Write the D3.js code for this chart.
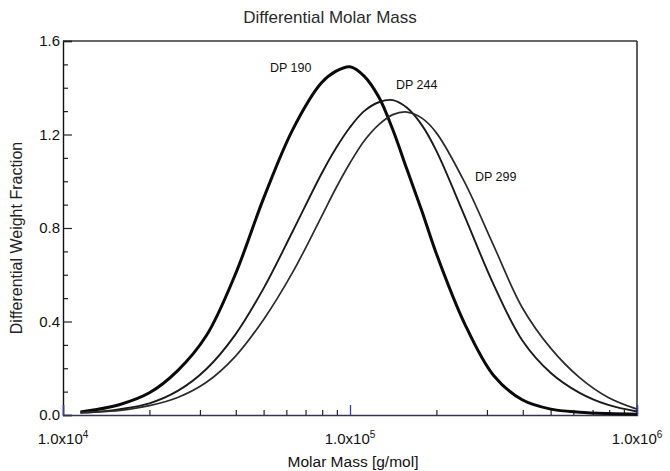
<!DOCTYPE html>
<html>
<head>
<meta charset="utf-8">
<script src="https://cdn.jsdelivr.net/npm/d3@7/dist/d3.min.js"></script>
<style>
  html, body { margin: 0; padding: 0; background: #fff; }
  svg { display: block; font-family: "Liberation Sans", Arial, sans-serif; }
</style>
</head>
<body>
<svg id="chart" width="670" height="471"></svg>
<script>
// Molar mass sampling points (g/mol)
const molarMass = [11500, 12600, 15800, 20000, 25100, 31600, 39800, 50100, 63100, 79400,
  89100, 100000, 112000, 126000, 141000, 158000, 178000, 200000, 251000, 316000,
  398000, 501000, 631000, 794000, 1000000];

// Differential weight fraction for each sample
const dp190 = [0.013, 0.02, 0.045, 0.095, 0.19, 0.34, 0.60, 0.93, 1.22, 1.42,
  1.47, 1.49, 1.45, 1.36, 1.22, 1.05, 0.873, 0.69, 0.39, 0.17,
  0.065, 0.025, 0.012, 0.006, 0.003];
const dp244 = [0.01, 0.012, 0.025, 0.05, 0.103, 0.197, 0.343, 0.544, 0.785, 1.03,
  1.139, 1.231, 1.30, 1.338, 1.347, 1.314, 1.24, 1.13, 0.85, 0.56,
  0.32, 0.18, 0.095, 0.043, 0.015];
const dp299 = [0.01, 0.012, 0.02, 0.04, 0.075, 0.14, 0.25, 0.41, 0.61, 0.847,
  0.968, 1.078, 1.172, 1.242, 1.285, 1.296, 1.27, 1.207, 0.995, 0.727,
  0.46, 0.285, 0.16, 0.075, 0.025];

const seriesNames = ["DP 190", "DP 244", "DP 299"];

// Axis ticks
const yMajorTicks = [0, 0.4, 0.8, 1.2, 1.6];
const yMinorTicks = [0.1, 0.2, 0.3, 0.5, 0.6, 0.7, 0.9, 1.0, 1.1, 1.3, 1.4, 1.5];
const xMajorTicks = [1e4, 1e5, 1e6];
const xMajorExponents = ["4", "5", "6"];
const xMinorTicks = [2e4, 3e4, 4e4, 5e4, 6e4, 7e4, 8e4, 9e4, 2e5, 3e5, 4e5, 5e5, 6e5, 7e5, 8e5, 9e5];

const W = 670, H = 471;
const margin = { top: 41, right: 33, bottom: 56, left: 63 };
const iw = W - margin.left - margin.right;
const ih = H - margin.top - margin.bottom;

const svg = d3.select("#chart");
const g = svg.append("g").attr("transform", `translate(${margin.left},${margin.top})`);

const x = d3.scaleLog().domain([1e4, 1e6]).range([0, iw]);
const y = d3.scaleLinear().domain([0, 1.6]).range([ih, 0]);

// Frame: top and right edges
g.append("line").attr("x1", 0).attr("x2", iw).attr("y1", 0).attr("y2", 0)
  .attr("stroke", "#333").attr("stroke-width", 1.3);
g.append("line").attr("x1", iw).attr("x2", iw).attr("y1", 0).attr("y2", ih)
  .attr("stroke", "#1a1a1a").attr("stroke-width", 1.4);

// Y axis with inward ticks
const yMinor = g.append("g").call(d3.axisLeft(y).tickValues(yMinorTicks).tickSize(-5).tickFormat(""));
yMinor.select(".domain").remove();
const yMajor = g.append("g").call(d3.axisLeft(y).tickValues(yMajorTicks).tickSize(-9).tickPadding(3).tickFormat(d3.format(".1f")));
yMajor.select(".domain").attr("stroke", "#111").attr("stroke-width", 1.4);
[yMinor, yMajor].forEach(a => a.selectAll(".tick line").attr("stroke", "#222").attr("stroke-width", 1.2));
yMajor.selectAll(".tick text")
  .attr("font-size", 15).attr("fill", "#111")
  .attr("font-family", "Liberation Sans, Arial, sans-serif");

// X axis with inward ticks
const xAxisG = g.append("g").attr("transform", `translate(0,${ih})`);
const xMinor = xAxisG.append("g").call(d3.axisBottom(x).tickValues(xMinorTicks).tickSize(-5).tickFormat(""));
xMinor.select(".domain").remove();
xMinor.selectAll(".tick line").attr("stroke", "#222").attr("stroke-width", 1.2);
const xMajor = xAxisG.append("g").call(d3.axisBottom(x).tickValues(xMajorTicks).tickSize(-10).tickFormat(""));
xMajor.select(".domain").attr("stroke", "#34344e").attr("stroke-width", 1.4);
xMajor.selectAll(".tick line").attr("stroke", "#3c3cb0").attr("stroke-width", 1.3);

// Tick labels in 1.0x10^n form
const xl = xAxisG.selectAll("text.xlab").data(xMajorTicks).join("text")
  .attr("class", "xlab")
  .attr("x", d => x(d))
  .attr("y", 29)
  .attr("text-anchor", "middle")
  .attr("font-size", 15)
  .attr("fill", "#111");
xl.append("tspan").text("1.0x10");
xl.append("tspan").attr("dy", -6).attr("font-size", 10).text((d, i) => xMajorExponents[i]);

// Curves
const line = d3.line()
  .x(d => x(d[0]))
  .y(d => y(d[1]))
  .curve(d3.curveCatmullRom.alpha(0.5));

const series = [
  { name: seriesNames[0], values: dp190, width: 3.0, color: "#0a0a0a" },
  { name: seriesNames[1], values: dp244, width: 1.9, color: "#1a1a1a" },
  { name: seriesNames[2], values: dp299, width: 1.7, color: "#2a2a2a" }
];

g.selectAll("path.curve").data(series).join("path")
  .attr("class", "curve")
  .attr("fill", "none")
  .attr("stroke", d => d.color)
  .attr("stroke-width", d => d.width)
  .attr("stroke-linejoin", "round")
  .attr("d", d => line(molarMass.map((m, i) => [m, d.values[i]])));

// Series labels
const labelPos = [[270, 72], [396, 89], [475, 181]];
svg.selectAll("text.series").data(series).join("text")
  .attr("class", "series")
  .attr("x", (d, i) => labelPos[i][0])
  .attr("y", (d, i) => labelPos[i][1])
  .attr("font-size", 12.5)
  .attr("fill", "#111")
  .text(d => d.name);

// Titles
svg.append("text")
  .attr("x", 330).attr("y", 23)
  .attr("text-anchor", "middle")
  .attr("font-size", 17)
  .attr("fill", "#2a2a2a")
  .text("Differential Molar Mass");

svg.append("text")
  .attr("x", margin.left + iw / 2 + 3).attr("y", 467)
  .attr("text-anchor", "middle")
  .attr("font-size", 15.5)
  .attr("fill", "#111")
  .text("Molar Mass [g/mol]");

svg.append("text")
  .attr("transform", `translate(22,${margin.top + ih / 2 + 10}) rotate(-90)`)
  .attr("text-anchor", "middle")
  .attr("font-size", 16)
  .attr("fill", "#222")
  .text("Differential Weight Fraction");
</script>
</body>
</html>
